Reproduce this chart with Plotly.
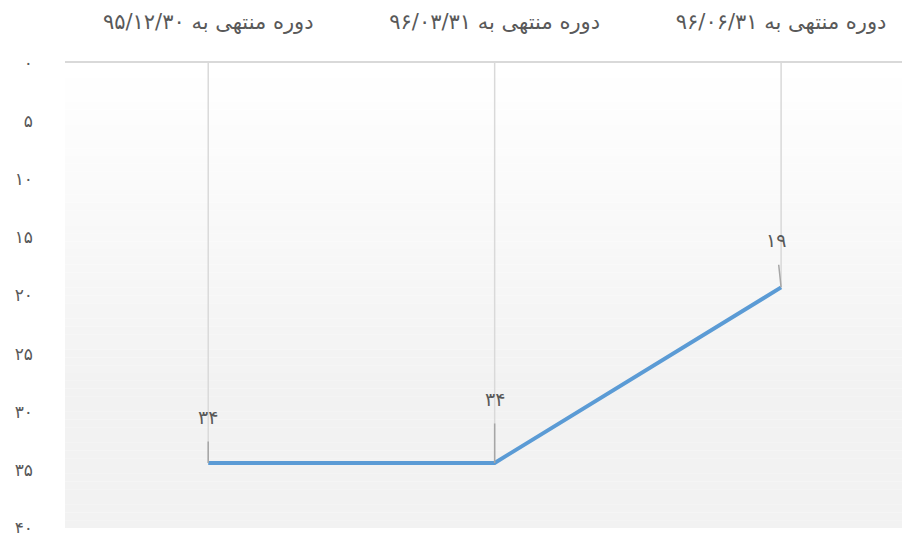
import plotly.graph_objects as go

categories = ["دوره منتهی به ۹۵/۱۲/۳۰", "دوره منتهی به ۹۶/۰۳/۳۱", "دوره منتهی به ۹۶/۰۶/۳۱"]
values = [34.4, 34.4, 19.3]
value_labels = ["۳۴", "۳۴", "۱۹"]
y_tick_vals = [0, 5, 10, 15, 20, 25, 30, 35, 40]
y_tick_labels = ["۰", "۵", "۱۰", "۱۵", "۲۰", "۲۵", "۳۰", "۳۵", "۴۰"]

label_dx = [0, 0, -5]
label_dy = [-46, -64, -47]

FONT = "DejaVu Sans"
TXT = "#595959"

x_idx = list(range(len(categories)))

fig = go.Figure()

# drop lines from top axis to each point
fig.add_trace(go.Scatter(
    x=x_idx, y=values, mode="markers",
    marker=dict(size=1, opacity=0),
    error_y=dict(type="data", symmetric=False, array=[0] * len(values),
                 arrayminus=values, color="#d9d9d9", thickness=1.5, width=0),
    hoverinfo="skip", showlegend=False,
))

fig.add_trace(go.Scatter(
    x=x_idx, y=values, mode="lines",
    line=dict(color="#5B9BD5", width=4),
    showlegend=False,
))

for i, (v, lab) in enumerate(zip(values, value_labels)):
    fig.add_annotation(
        x=i, y=v, xref="x", yref="y", text=lab,
        showarrow=True, arrowhead=0, arrowcolor="#a6a6a6", arrowwidth=1.5,
        ax=label_dx[i], ay=label_dy[i], startstandoff=12,
        font=dict(family=FONT, size=19, color=TXT),
    )

# vertical gradient background of plot area
n = 60
shapes = []
for k in range(n):
    t = k / (n - 1)
    frac = min(1.0, t / 0.7)
    c = round(255 - (255 - 242) * frac)
    shapes.append(dict(type="rect", xref="paper", yref="paper",
                       x0=0, x1=1, y0=1 - (k + 1) / n, y1=1 - k / n,
                       fillcolor=f"rgb({c},{c},{c})", line=dict(width=0),
                       layer="below"))

fig.update_layout(
    width=902, height=533,
    margin=dict(l=57, r=0, t=55, b=13),
    paper_bgcolor="white",
    plot_bgcolor="rgba(0,0,0,0)",
    shapes=shapes,
    font=dict(family=FONT, color=TXT),
    xaxis=dict(
        side="top", tickmode="array", tickvals=x_idx, ticktext=categories,
        range=[-0.5, 2.45], showgrid=False, zeroline=False,
        showline=True, linecolor="#d9d9d9", linewidth=2,
        ticks="", ticklabelstandoff=24, automargin=False,
        tickfont=dict(family=FONT, size=21, color=TXT),
    ),
    yaxis=dict(
        range=[40, 0], tickmode="array", tickvals=y_tick_vals, ticktext=y_tick_labels,
        showgrid=False, zeroline=False, showline=False, ticks="",
        ticklabelstandoff=31, automargin=False,
        tickfont=dict(family=FONT, size=17, color=TXT),
    ),
)

fig.write_html("out.html")
